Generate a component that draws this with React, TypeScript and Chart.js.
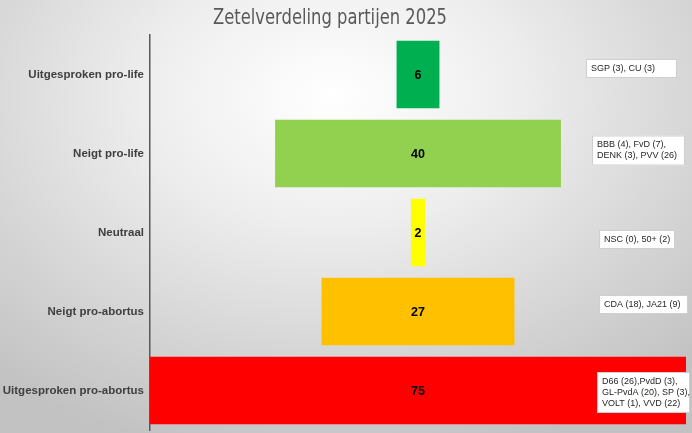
import React, { useEffect, useRef } from 'react';
import Chart from 'chart.js/auto';

const categories = [
  'Uitgesproken pro-life',
  'Neigt pro-life',
  'Neutraal',
  'Neigt pro-abortus',
  'Uitgesproken pro-abortus',
];
const seats = [6, 40, 2, 27, 75];
const barColors = ['#00B050', '#92D050', '#FFFF00', '#FFC000', '#FF0000'];
const partyNotes = [
  ['SGP (3), CU (3)'],
  ['BBB (4), FvD (7),', 'DENK (3), PVV (26)'],
  ['NSC (0), 50+ (2)'],
  ['CDA (18), JA21 (9)'],
  ['D66 (26),PvdD (3),', 'GL-PvdA (20), SP (3),', 'VOLT (1), VVD (22)'],
];
const title = 'Zetelverdeling partijen 2025';

// where the note boxes sit: left edge, width, shift from the category centre
const noteBoxes = [
  { left: 586, w: 91, dy: -6 },
  { left: 592, w: 93, dy: -3 },
  { left: 599, w: 76, dy: 7 },
  { left: 599, w: 89, dy: -7 },
  { left: 597, w: 93, dy: 2 },
];

const overlay = {
  id: 'overlay',
  afterDatasetsDraw(chart: any) {
    const { ctx, scales } = chart;
    const x = scales.x;
    const y = scales.y;
    ctx.save();
    // value labels in the middle of each bar
    ctx.font = 'bold 12.5px "Liberation Sans", Arial, sans-serif';
    ctx.fillStyle = '#000000';
    ctx.textAlign = 'center';
    ctx.textBaseline = 'middle';
    seats.forEach((v, i) => {
      ctx.fillText(String(v), x.getPixelForValue(0), y.getPixelForValue(i) + 1);
    });
    // party text boxes on the right
    ctx.font = '9px "Liberation Sans", Arial, sans-serif';
    ctx.textAlign = 'left';
    partyNotes.forEach((lines, i) => {
      const b = noteBoxes[i];
      const lh = 11;
      const h = lines.length * lh + 8;
      const cy = y.getPixelForValue(i) + b.dy;
      const top = cy - h / 2;
      ctx.fillStyle = '#ffffff';
      ctx.fillRect(b.left, top, b.w, h);
      ctx.strokeStyle = '#cfcfcf';
      ctx.lineWidth = 1;
      ctx.strokeRect(b.left + 0.5, top + 0.5, b.w - 1, h - 1);
      ctx.fillStyle = '#262626';
      lines.forEach((l, k) => {
        ctx.fillText(l, b.left + 5, top + 4 + lh * k + lh / 2);
      });
    });
    // title
    ctx.font = '22px "DejaVu Sans Condensed", "Liberation Sans Narrow", sans-serif';
    ctx.fillStyle = '#595959';
    ctx.textAlign = 'center';
    ctx.textBaseline = 'middle';
    ctx.fillText(title, 330, 18, 234);
    ctx.restore();
  },
};

export default function App() {
  const ref = useRef<HTMLCanvasElement>(null);
  useEffect(() => {
    if (!ref.current) return;
    const chart = new Chart(ref.current, {
      type: 'bar',
      data: {
        labels: categories,
        datasets: [
          {
            data: seats.map((v) => [-v / 2, v / 2]) as any,
            backgroundColor: barColors,
            borderWidth: 0,
            categoryPercentage: 0.855,
            barPercentage: 1,
          },
        ],
      },
      options: {
        indexAxis: 'y',
        animation: false,
        responsive: false,
        layout: { padding: { top: 35, right: 6, bottom: 3, left: 0 } },
        plugins: { legend: { display: false }, tooltip: { enabled: false }, title: { display: false } },
        scales: {
          x: { display: false, min: -37.5, max: 37.5 },
          y: {
            grid: { display: false, drawTicks: false },
            border: { display: true, color: '#595959', width: 1.5 },
            ticks: {
              padding: 6,
              color: '#404040',
              font: { family: '"Liberation Sans", Arial, sans-serif', size: 11.5, weight: 'bold' },
            },
            afterFit: (s: any) => {
              s.width = 150;
              s.paddingTop = 0;
              s.paddingBottom = 0;
            },
          },
        },
      },
      plugins: [overlay],
    });
    return () => chart.destroy();
  }, []);
  return (
    <div
      style={{
        position: 'absolute',
        left: 0,
        top: 0,
        width: 692,
        height: 433,
        background: 'radial-gradient(ellipse 75% 85% at 48% 22%, #ffffff 0%, #eeeeee 35%, #d6d6d6 70%, #c2c2c2 100%)',
      }}
    >
      <canvas ref={ref} width={692} height={433} style={{ display: 'block', width: 692, height: 433 }} />
    </div>
  );
}
